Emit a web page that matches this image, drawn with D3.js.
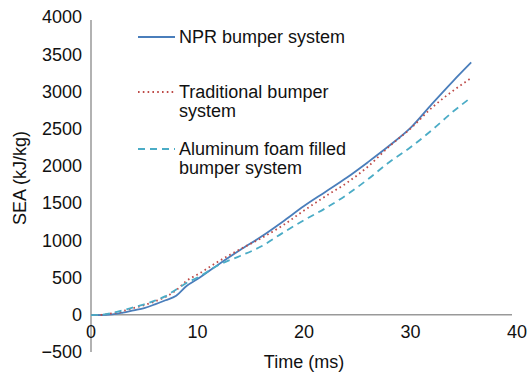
<!DOCTYPE html>
<html lang="en">
<head>
<meta charset="utf-8">
<title>SEA vs time</title>
<script src="https://d3js.org/d3.v7.min.js"></script>
<style>
  body { margin: 0; background: #fff; }
  text { font-family: "Liberation Sans", Arial, sans-serif; fill: #111; }
</style>
</head>
<body>
<div id="chart"></div>
<script>
// data
var time = [0, 1, 2, 3, 4, 5, 6, 7, 8, 9, 10, 12, 14, 16, 18, 20, 22, 24, 26, 28, 30, 32, 34, 35.7];
var npr = [-5, -5, 5, 30, 60, 90, 140, 195, 255, 390, 480, 680, 870, 1050, 1250, 1460, 1650, 1840, 2050, 2270, 2510, 2830, 3140, 3390];
var traditional = [-5, 0, 20, 50, 90, 130, 180, 240, 330, 460, 540, 720, 880, 1030, 1200, 1400, 1590, 1770, 1990, 2260, 2500, 2780, 3010, 3180];
var aluminum = [-5, 0, 25, 60, 100, 140, 190, 250, 340, 430, 500, 670, 790, 920, 1100, 1270, 1430, 1610, 1820, 2050, 2250, 2480, 2730, 2920];
var xTicks = [0, 10, 20, 30, 40];
var yTicks = [-500, 0, 500, 1000, 1500, 2000, 2500, 3000, 3500, 4000];

var series = [
  {name: ["NPR bumper system"], values: npr, color: "#4a7ebb", dash: null, ly: 37},
  {name: ["Traditional bumper", "system"], values: traditional, color: "#be4b48", dash: "1.6,3.2", ly: 92},
  {name: ["Aluminum foam filled", "bumper system"], values: aluminum, color: "#4bacc6", dash: "7,5", ly: 149}
];

var width = 528, height = 374;
var svg = d3.select("#chart").append("svg")
  .attr("width", width)
  .attr("height", height);

var x = d3.scaleLinear().domain([0, 40]).range([91, 517]);
var y = d3.scaleLinear().domain([-500, 4000]).range([352, 17]);

// axes lines
svg.append("line")
  .attr("x1", x(0)).attr("x2", x(0))
  .attr("y1", y(3960)).attr("y2", y(-500))
  .attr("stroke", "#999").attr("stroke-width", 1.5);
svg.append("line")
  .attr("x1", x(0)).attr("x2", 512)
  .attr("y1", y(0)).attr("y2", y(0))
  .attr("stroke", "#999").attr("stroke-width", 1.5);

// tick labels
svg.selectAll(".ylab")
  .data(yTicks)
  .enter()
  .append("text")
    .attr("x", 82)
    .attr("y", function(d) { return y(d); })
    .attr("dy", "0.35em")
    .attr("text-anchor", "end")
    .style("font-size", "18px")
    .text(function(d) { return d < 0 ? "\u2212" + Math.abs(d) : d; });

svg.selectAll(".xlab")
  .data(xTicks)
  .enter()
  .append("text")
    .attr("x", function(d) { return x(d); })
    .attr("y", 338)
    .attr("text-anchor", "middle")
    .style("font-size", "18px")
    .text(function(d) { return d; });

// axis titles
svg.append("text")
  .attr("x", 304)
  .attr("y", 368)
  .attr("text-anchor", "middle")
  .style("font-size", "18px")
  .text("Time (ms)");

svg.append("text")
  .attr("transform", "translate(26,178) rotate(-90)")
  .attr("text-anchor", "middle")
  .style("font-size", "18px")
  .text("SEA (kJ/kg)");

// lines
var line = d3.line()
  .x(function(d, i) { return x(time[i]); })
  .y(function(d) { return y(d); })
  .curve(d3.curveMonotoneX);

svg.selectAll(".series")
  .data(series)
  .enter()
  .append("path")
    .attr("d", function(d) { return line(d.values); })
    .attr("fill", "none")
    .attr("stroke", function(d) { return d.color; })
    .attr("stroke-width", 1.8)
    .attr("stroke-dasharray", function(d) { return d.dash; });

// legend
var leg = svg.selectAll(".legend")
  .data(series)
  .enter()
  .append("g");

leg.append("line")
  .attr("x1", 138).attr("x2", 175)
  .attr("y1", function(d) { return d.ly; })
  .attr("y2", function(d) { return d.ly; })
  .attr("stroke", function(d) { return d.color; })
  .attr("stroke-width", 1.8)
  .attr("stroke-dasharray", function(d) { return d.dash; });

leg.each(function(d) {
  var g = d3.select(this);
  d.name.forEach(function(s, k) {
    g.append("text")
      .attr("x", 179)
      .attr("y", d.ly + 6 + k * 19)
      .style("font-size", "18px")
      .text(s);
  });
});
</script>
</body>
</html>
